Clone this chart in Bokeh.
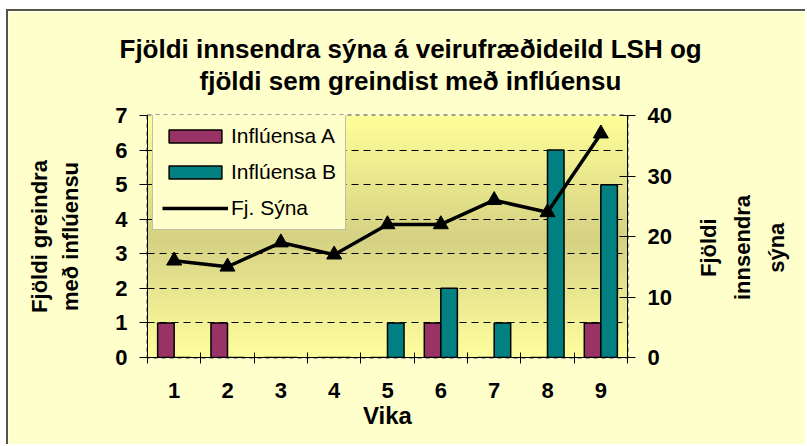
import numpy as np
from bokeh.plotting import figure
from bokeh.models import (ColumnDataSource, Range1d, LinearAxis, FixedTicker,
                          Legend, LegendItem, Title)
from bokeh.transform import dodge
from bokeh.embed import file_html
from bokeh.resources import INLINE

# ---- data ----
weeks = [1, 2, 3, 4, 5, 6, 7, 8, 9]
influenza_a = [1, 1, 0, 0, 0, 1, 0, 0, 1]
influenza_b = [0, 0, 0, 0, 1, 2, 1, 6, 5]
samples = [16, 15, 19, 17, 22, 22, 26, 24, 37]
left_ticks = [0, 1, 2, 3, 4, 5, 6, 7]
right_ticks = [0, 10, 20, 30, 40]
week_edges = [w - 0.5 for w in weeks] + [weeks[-1] + 0.5]

title_lines = ["Fjöldi innsendra sýna á veirufræðideild LSH og",
               "fjöldi sem greindist með inflúensu"]
left_title = ["Fjöldi greindra", "með inflúensu"]
right_title = ["Fjöldi", "innsendra", "sýna"]
x_title = "Vika"
series_names = ["Inflúensa A", "Inflúensa B", "Fj. Sýna"]

FONT = "Liberation Sans"
BG = "#FFFFCC"

src = ColumnDataSource(dict(week=weeks, a=influenza_a, b=influenza_b, n=samples))

p = figure(width=799, height=435, output_backend="svg", toolbar_location=None,
           title=None,
           x_range=Range1d(week_edges[0], week_edges[-1]),
           y_range=Range1d(left_ticks[0], left_ticks[-1]),
           min_border_left=139, min_border_right=180,
           min_border_top=104, min_border_bottom=89)
p.extra_y_ranges = {"right": Range1d(right_ticks[0], right_ticks[-1])}
p.border_fill_color = BG
p.background_fill_color = "#FFFF99"
p.outline_line_color = "#808080"
p.outline_line_width = 2.5
p.outline_line_dash = "4 4"
p.styles = {"margin-left": "6px", "margin-top": "9px",
            "border-left": "2px solid #55554a", "border-top": "2px solid #55554a"}

# title: spacer, then second line, then first line (stacked outward from frame)
p.add_layout(Title(text=" ", text_font_size="1px", standoff=17), "above")
t2 = Title(text=title_lines[1], align="left", offset=52, standoff=0)
t1 = Title(text=title_lines[0], align="left", offset=-28, standoff=0)
for t in (t2, t1):
    t.text_font = FONT
    t.text_font_size = "26px"
    t.text_font_style = "bold"
    t.text_color = "black"
    p.add_layout(t, "above")

# vertical gradient for the plot area (style only)
N = 200
tt = np.linspace(0, 1, N)
stops_t = [0.0, 0.49, 1.0]
stops_c = np.array([[0xFF, 0xFF, 0x9E], [0xD6, 0xD2, 0x84], [0xFF, 0xFF, 0x99]], float)
cols = np.stack([np.interp(tt, stops_t, stops_c[:, k]) for k in range(3)], axis=1).astype(np.uint32)
img = np.zeros((N, 1), dtype=np.uint32)
view = img.view(dtype=np.uint8).reshape((N, 1, 4))
view[:, 0, 0] = cols[:, 0]
view[:, 0, 1] = cols[:, 1]
view[:, 0, 2] = cols[:, 2]
view[:, 0, 3] = 255
p.image_rgba(image=[img], x=week_edges[0], y=left_ticks[0],
             dw=week_edges[-1] - week_edges[0], dh=left_ticks[-1] - left_ticks[0],
             level="image")

# axes
xa = p.xaxis[0]
xa.ticker = FixedTicker(ticks=weeks, minor_ticks=week_edges)
xa.major_tick_in = 0
xa.major_tick_out = 0
xa.minor_tick_in = 5
xa.minor_tick_out = 6
xa.minor_tick_line_color = "black"
xa.major_label_standoff = 19
xa.axis_label = x_title
xa.axis_label_standoff = 1
xa.axis_label_text_font_size = "24px"

ya = p.yaxis[0]
ya.ticker = FixedTicker(ticks=left_ticks)
ya.major_tick_in = 0
ya.major_tick_out = 8
ya.minor_tick_line_color = None
ya.major_label_standoff = 12
ya.axis_label = "\n".join(left_title)
ya.axis_label_standoff = 29
ya.axis_label_text_font_size = "22px"

ra = LinearAxis(y_range_name="right", ticker=FixedTicker(ticks=right_ticks))
ra.major_tick_in = 8
ra.major_tick_out = 8
ra.minor_tick_line_color = None
ra.major_label_standoff = 12
p.add_layout(ra, "right")

for ax in (xa, ya, ra):
    ax.axis_line_color = "black"
    ax.axis_line_width = 1
    ax.major_tick_line_color = "black"
    ax.major_label_text_font = FONT
    ax.major_label_text_font_style = "bold"
    ax.major_label_text_font_size = "22px"
    ax.major_label_text_color = "black"
    ax.axis_label_text_font = FONT
    ax.axis_label_text_font_style = "bold"
    ax.axis_label_text_color = "black"
    ax.axis_label_text_align = "center"
    ax.axis_label_text_line_height = 1.25

# right-hand title: one rotated line per outer axis (reads bottom to top);
# each line starts at the given right-axis value so that the lines are centred
right_title_start = [13.3, 9.5, 14.0]
for line, start, standoff in zip(right_title, right_title_start, [34, 6, 6]):
    tax = LinearAxis(y_range_name="right", ticker=FixedTicker(ticks=[start], minor_ticks=[]),
                     major_label_overrides={start: line})
    tax.axis_line_color = None
    tax.major_tick_line_color = None
    tax.minor_tick_line_color = None
    tax.major_tick_in = 0
    tax.major_tick_out = 0
    tax.minor_tick_in = 0
    tax.minor_tick_out = 0
    tax.major_label_orientation = np.pi / 2
    tax.major_label_standoff = standoff
    tax.major_label_text_font = FONT
    tax.major_label_text_font_style = "bold"
    tax.major_label_text_font_size = "22px"
    tax.major_label_text_color = "black"
    tax.major_label_text_align = "center"
    p.add_layout(tax, "right")

p.xgrid.visible = False
p.ygrid.ticker = FixedTicker(ticks=left_ticks[1:-1])
p.ygrid.grid_line_color = "black"
p.ygrid.grid_line_dash = "7 5"
p.ygrid.grid_line_width = 1

# bars and line
ra_bar = p.vbar(x=dodge("week", -0.155), top="a", width=0.31, source=src,
                fill_color="#993366", line_color="black", line_width=1.5)
rb_bar = p.vbar(x=dodge("week", 0.155), top="b", width=0.31, source=src,
                fill_color="#008080", line_color="black", line_width=1.5)
rl = p.line(x="week", y="n", source=src, y_range_name="right",
            line_color="black", line_width=3.5)
rm = p.scatter(x="week", y="n", source=src, y_range_name="right",
               marker="triangle", size=15, fill_color="black", line_color="black")
# legend-only marker (thicker outline so the legend triangle is as big as in the chart)
rm_leg = p.scatter(x=[], y=[], marker="triangle", size=15, fill_color="black",
                   line_color="black", line_width=7, line_join="miter")

legend = Legend(items=[LegendItem(label=series_names[0], renderers=[ra_bar]),
                       LegendItem(label=series_names[1], renderers=[rb_bar]),
                       LegendItem(label=series_names[2], renderers=[rl, rm_leg])],
                location=(5, 127))
legend.background_fill_color = BG
legend.background_fill_alpha = 1
legend.border_line_color = "#808080"
legend.border_line_width = 1.5
legend.label_text_font = FONT
legend.label_text_font_size = "21px"
legend.label_text_color = "black"
legend.glyph_width = 66
legend.glyph_height = 16
legend.label_height = 22
legend.label_standoff = 3
legend.padding = 9
legend.spacing = 12
legend.margin = 0
p.add_layout(legend, "center")

open("out.html", "w").write(file_html(p, INLINE))
